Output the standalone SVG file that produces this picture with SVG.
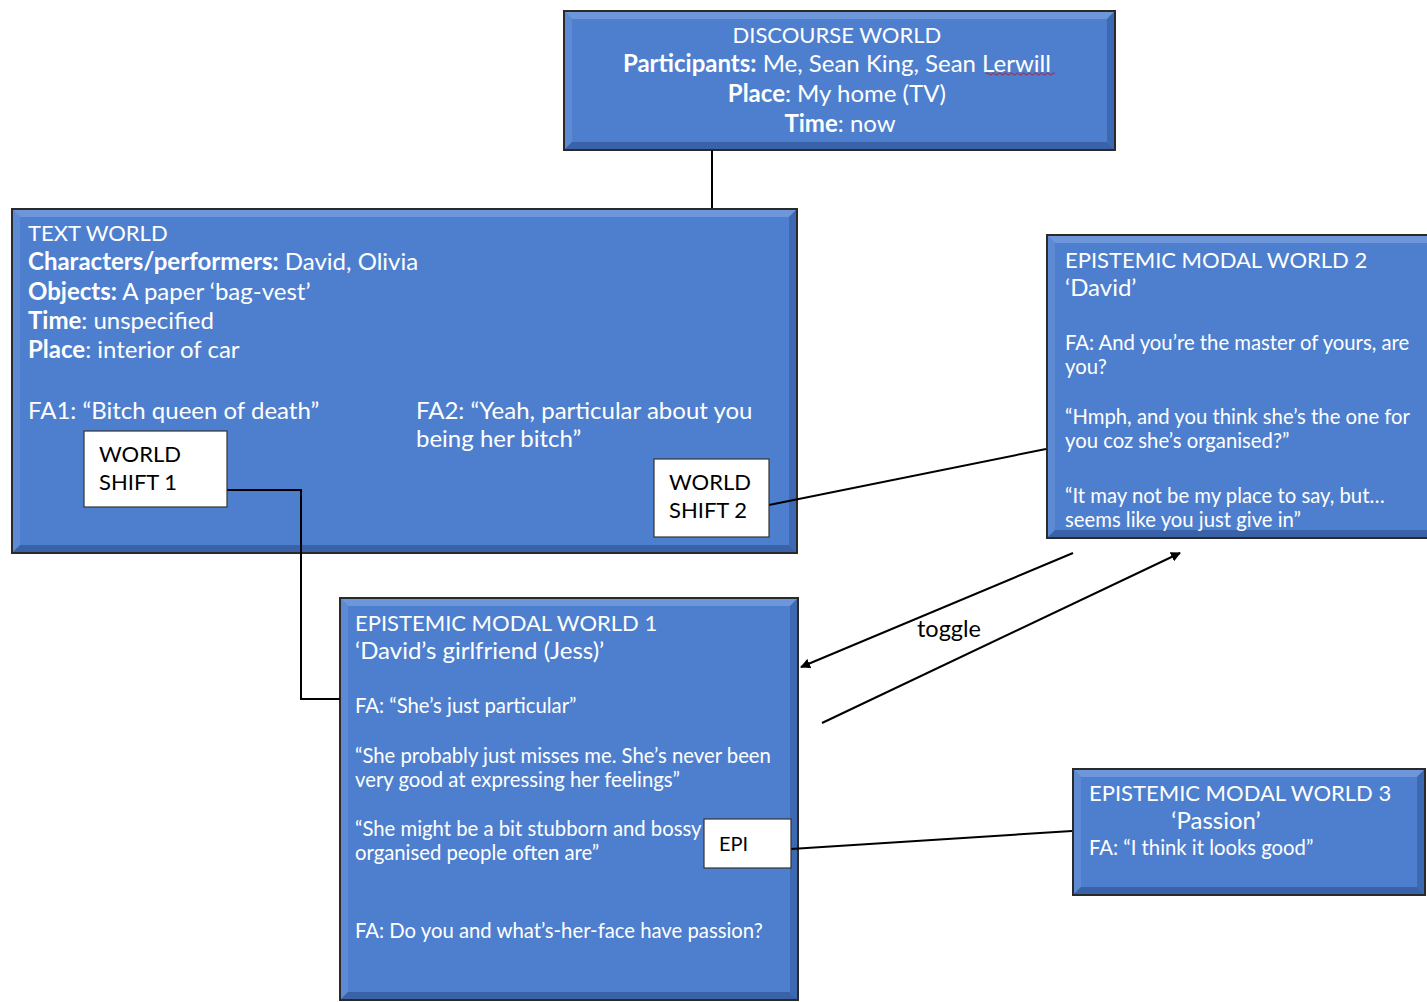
<svg xmlns="http://www.w3.org/2000/svg" width="1427" height="1002" viewBox="0 0 1427 1002">
  <defs>
    <marker id="arrow" viewBox="0 0 10 10" refX="9" refY="5" markerWidth="10" markerHeight="10" markerUnits="userSpaceOnUse" orient="auto">
      <path d="M0,0 L10,5 L0,10 z" fill="#000"/>
    </marker>
  </defs>
  <style>
    .panel { fill: #4E7FCE; stroke: #2a2a2a; stroke-width: 2; }
    .bev-top { fill: #6E97DB; }
    .bev-left { fill: #5E8AD4; }
    .bev-right { fill: #3D69B3; }
    .bev-bottom { fill: #3962A8; }
    .tag { fill: #ffffff; stroke: #333; stroke-width: 1.2; }
    .wt { font-family: Lato, "Open Sans", sans-serif; fill: #ffffff; font-size: 24px; }
    .cap { font-size: 22px; }
    .ws { font-family: Lato, "Open Sans", sans-serif; fill: #ffffff; font-size: 20.3px; }
    .bk { font-family: Lato, "Open Sans", sans-serif; fill: #000000; font-size: 22px; }
    .b { font-weight: bold; }
    .conn { stroke: #000; stroke-width: 2; fill: none; }
  </style>

  <!-- discourse world -->
  <g id="discourse-world">
    <rect class="panel" x="564" y="11" width="551" height="139"/>
    <polygon class="bev-top" points="565,12 1114,12 1107,19 572,19"/>
    <polygon class="bev-left" points="565,12 572,19 572,142 565,149"/>
    <polygon class="bev-right" points="1114,12 1114,149 1107,142 1107,19"/>
    <polygon class="bev-bottom" points="565,149 572,142 1107,142 1114,149"/>
    <text class="wt" text-anchor="middle">
      <tspan x="840" y="43" class="cap">DISCOURSE WORLD</tspan>
      <tspan x="840" y="72"><tspan class="b">Participants:</tspan> Me, Sean King, Sean Lerwill</tspan>
      <tspan x="840" y="102"><tspan class="b">Place</tspan>: My home (TV)</tspan>
      <tspan x="840" y="132"><tspan class="b">Time</tspan>: now</tspan>
    </text>
    <path d="M986,74 q1.5,-2 3,0 t3,0 t3,0 t3,0 t3,0 t3,0 t3,0 t3,0 t3,0 t3,0 t3,0 t3,0 t3,0 t3,0 t3,0 t3,0 t3,0 t3,0 t3,0 t3,0 t3,0 t3,0 t3,0" fill="none" stroke="#d0202a" stroke-width="1.2"/>
  </g>

  <!-- text world -->
  <g id="text-world">
    <rect class="panel" x="12" y="209" width="785" height="344"/>
    <polygon class="bev-top" points="13,210 796,210 789,217 20,217"/>
    <polygon class="bev-left" points="13,210 20,217 20,545 13,552"/>
    <polygon class="bev-right" points="796,210 796,552 789,545 789,217"/>
    <polygon class="bev-bottom" points="13,552 20,545 789,545 796,552"/>
    <text class="wt">
      <tspan x="28" y="241" class="cap">TEXT WORLD</tspan>
      <tspan x="28" y="270"><tspan class="b">Characters/performers:</tspan> David, Olivia</tspan>
      <tspan x="28" y="300"><tspan class="b">Objects:</tspan> A paper ‘bag-vest’</tspan>
      <tspan x="28" y="329"><tspan class="b">Time</tspan>: unspecified</tspan>
      <tspan x="28" y="358"><tspan class="b">Place</tspan>: interior of car</tspan>
      <tspan x="28" y="419">FA1: “Bitch queen of death”</tspan>
      <tspan x="416" y="419">FA2: “Yeah, particular about you</tspan>
      <tspan x="416" y="447">being her bitch”</tspan>
    </text>
  </g>

  <!-- epistemic modal world 2 -->
  <g id="emw-2">
    <rect class="panel" x="1047" y="235" width="381" height="303"/>
    <polygon class="bev-top" points="1048,236 1427,236 1427,243 1055,243"/>
    <polygon class="bev-left" points="1048,236 1055,243 1055,530 1048,537"/>
    <polygon class="bev-bottom" points="1048,537 1055,530 1427,530 1427,537"/>
    <text class="wt">
      <tspan x="1065" y="268" class="cap">EPISTEMIC MODAL WORLD 2</tspan>
      <tspan x="1065" y="296">‘David’</tspan>
    </text>
    <text class="ws">
      <tspan x="1065" y="350">FA: And you’re the master of yours, are</tspan>
      <tspan x="1065" y="374">you?</tspan>
      <tspan x="1065" y="424">“Hmph, and you think she’s the one for</tspan>
      <tspan x="1065" y="448">you coz she’s organised?”</tspan>
      <tspan x="1065" y="503">“It may not be my place to say, but…</tspan>
      <tspan x="1065" y="527">seems like you just give in”</tspan>
    </text>
  </g>

  <!-- epistemic modal world 1 -->
  <g id="emw-1">
    <rect class="panel" x="340" y="598" width="458" height="402"/>
    <polygon class="bev-top" points="341,599 797,599 790,606 348,606"/>
    <polygon class="bev-left" points="341,599 348,606 348,992 341,999"/>
    <polygon class="bev-right" points="797,599 797,999 790,992 790,606"/>
    <polygon class="bev-bottom" points="341,999 348,992 790,992 797,999"/>
    <text class="wt">
      <tspan x="355" y="631" class="cap">EPISTEMIC MODAL WORLD 1</tspan>
      <tspan x="355" y="659">‘David’s girlfriend (Jess)’</tspan>
    </text>
    <text class="ws">
      <tspan x="355" y="713">FA: “She’s just particular”</tspan>
      <tspan x="355" y="763">“She probably just misses me. She’s never been</tspan>
      <tspan x="355" y="787">very good at expressing her feelings”</tspan>
      <tspan x="355" y="836">“She might be a bit stubborn and bossy</tspan>
      <tspan x="355" y="860">organised people often are”</tspan>
      <tspan x="355" y="938">FA: Do you and what’s-her-face have passion?</tspan>
    </text>
  </g>

  <!-- epistemic modal world 3 -->
  <g id="emw-3">
    <rect class="panel" x="1073" y="769" width="352" height="126"/>
    <polygon class="bev-top" points="1074,770 1424,770 1417,777 1081,777"/>
    <polygon class="bev-left" points="1074,770 1081,777 1081,887 1074,894"/>
    <polygon class="bev-right" points="1424,770 1424,894 1417,887 1417,777"/>
    <polygon class="bev-bottom" points="1074,894 1081,887 1417,887 1424,894"/>
    <text class="wt">
      <tspan x="1089" y="801" class="cap">EPISTEMIC MODAL WORLD 3</tspan>
      <tspan x="1216" y="829" text-anchor="middle">‘Passion’</tspan>
    </text>
    <text class="ws" x="1089" y="855">FA: “I think it looks good”</text>
  </g>

  <!-- connectors, drawn over the panels -->
  <g id="connectors">
    <line class="conn" x1="712" y1="150" x2="712" y2="208"/>
    <polyline class="conn" points="227,490 301,490 301,699 340,699"/>
    <line class="conn" x1="769" y1="505" x2="1046" y2="449"/>
    <line class="conn" x1="1073" y1="553" x2="801" y2="667" marker-end="url(#arrow)"/>
    <line class="conn" x1="822" y1="723" x2="1180" y2="553" marker-end="url(#arrow)"/>
    <line class="conn" x1="791" y1="849" x2="1072" y2="831"/>
    <text class="bk" x="949" y="637" text-anchor="middle" style="font-size:23.5px">toggle</text>
  </g>

  <!-- small labelled boxes sitting on the panels -->
  <g id="world-shift-1">
    <rect class="tag" x="84" y="431" width="143" height="76"/>
    <text class="bk">
      <tspan x="99" y="462">WORLD</tspan>
      <tspan x="99" y="490">SHIFT 1</tspan>
    </text>
  </g>

  <g id="world-shift-2">
    <rect class="tag" x="654" y="459" width="115" height="78"/>
    <text class="bk">
      <tspan x="669" y="490">WORLD</tspan>
      <tspan x="669" y="518">SHIFT 2</tspan>
    </text>
  </g>

  <g id="epi">
    <rect class="tag" x="704" y="819" width="87" height="49"/>
    <text class="bk" x="719" y="851" style="font-size:20px">EPI</text>
  </g>
</svg>
